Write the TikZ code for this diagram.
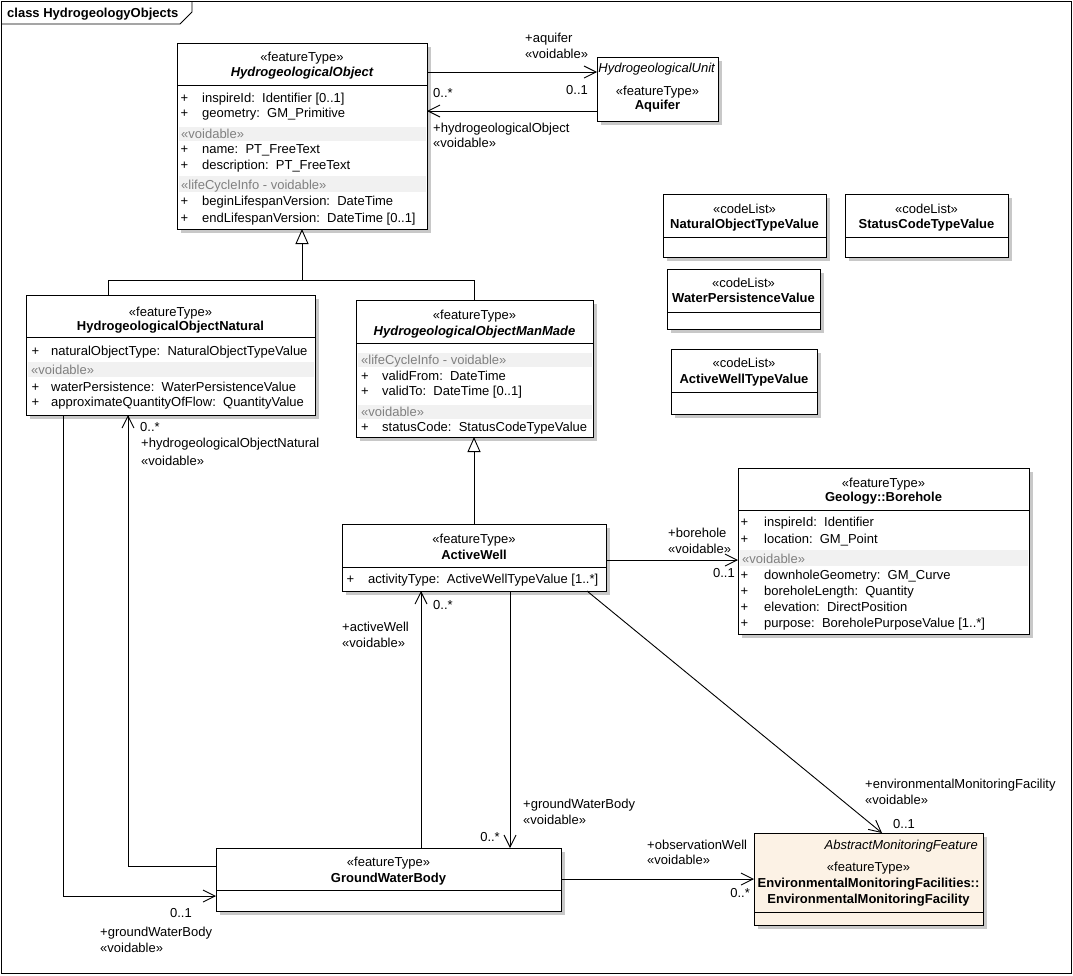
\documentclass[tikz,border=0pt]{standalone}
\usepackage{fontspec}
\setmainfont{Liberation Sans}
\usetikzlibrary{arrows.meta,shadows}
\definecolor{bandgray}{RGB}{241,241,241}
\definecolor{txtgray}{RGB}{128,128,128}
\definecolor{emffill}{RGB}{252,242,229}
\definecolor{shadowgray}{RGB}{200,200,200}
\newcommand\umlfont{\fontsize{13}{15}\selectfont\frenchspacing}
\tikzset{
 cls/.style={draw, line width=1pt, fill=white, inner sep=0pt, outer sep=0pt, anchor=north west,
   drop shadow={shadow xshift=4pt, shadow yshift=-4pt, fill=shadowgray, opacity=1}},
 t/.style={inner sep=0pt, anchor=base, font=\umlfont},
 tb/.style={inner sep=0pt, anchor=base, font=\umlfont\bfseries},
 tbi/.style={inner sep=0pt, anchor=base, font=\umlfont\bfseries\itshape},
 tl/.style={inner sep=0pt, anchor=base west, font=\umlfont},
 tr/.style={inner sep=0pt, anchor=base east, font=\umlfont},
 tg/.style={inner sep=0pt, anchor=base west, font=\umlfont, text=txtgray},
 band/.style={fill=bandgray, draw=none},
 divline/.style={line width=1pt},
 conn/.style={line width=0.9pt},
 assoc/.style={line width=0.9pt, -{Straight Barb[length=12pt,width=12pt,line width=0.9pt]}},
 gen/.style={line width=0.9pt, -{Triangle[open,length=15pt,width=13pt,line width=0.9pt]}},
}
\begin{document}
\begin{tikzpicture}[x=1pt,y=-1pt]
\useasboundingbox (0,0) rectangle (1073,975);
% frame
\draw[conn] (1,1) rectangle (1071,973);
\draw[conn] (1,24) -- (180,24) -- (192,12) -- (192,1);
\node[tl,font=\umlfont\bfseries] (title) at (7,17) {class HydrogeologyObjects};

% ---------- HydrogeologicalObject
\node[cls, minimum width=250pt, minimum height=186pt] (ho) at (177,43) {};
\draw[divline] (ho.west |- 0,85) -- (ho.east |- 0,85);
\fill[band] (178.5,127) rectangle (425.5,141);
\fill[band] (178.5,176) rectangle (425.5,192);
\node[t] (hoS) at (302,61) {«featureType»};
\node[tbi] (hoN) at (302,76) {HydrogeologicalObject};
\node[tl] (hoP1) at (180.5,102) {+}; \node[tl] (hoA1) at (202,102) {inspireId:\ \ Identifier [0..1]};
\node[tl] (hoP2) at (180.5,117) {+}; \node[tl] (hoA2) at (202,117) {geometry:\ \ GM\_Primitive};
\node[tg] (hoV1) at (181,138) {«voidable»};
\node[tl] (hoP3) at (180.5,153) {+}; \node[tl] (hoA3) at (202,153) {name:\ \ PT\_FreeText};
\node[tl] (hoP4) at (180.5,169) {+}; \node[tl] (hoA4) at (202,169) {description:\ \ PT\_FreeText};
\node[tg] (hoV2) at (181,189) {«lifeCycleInfo - voidable»};
\node[tl] (hoP5) at (180.5,205) {+}; \node[tl] (hoA5) at (202,205) {beginLifespanVersion:\ \ DateTime};
\node[tl] (hoP6) at (180.5,222) {+}; \node[tl] (hoA6) at (202,222) {endLifespanVersion:\ \ DateTime [0..1]};

% ---------- Aquifer
\node[cls, minimum width=121pt, minimum height=64pt] (aq) at (597,57) {};
\node[tr,font=\umlfont\itshape] (aqU) at (715,72) {HydrogeologicalUnit};
\node[t] (aqS) at (657.5,95) {«featureType»};
\node[tb] (aqN) at (657.5,109) {Aquifer};

% ---------- HydrogeologicalObjectNatural
\node[cls, minimum width=289pt, minimum height=120pt] (hon) at (26,295) {};
\draw[divline] (hon.west |- 0,337) -- (hon.east |- 0,337);
\fill[band] (27.5,362) rectangle (313.5,377);
\node[t] (honS) at (170.5,316) {«featureType»};
\node[tb] (honN) at (170.5,330) {HydrogeologicalObjectNatural};
\node[tl] (honP1) at (31.5,355) {+}; \node[tl] (honA1) at (51,355) {naturalObjectType:\ \ NaturalObjectTypeValue};
\node[tg] (honV) at (31,374) {«voidable»};
\node[tl] (honP2) at (31.5,391) {+}; \node[tl] (honA2) at (51,391) {waterPersistence:\ \ WaterPersistenceValue};
\node[tl] (honP3) at (31.5,406) {+}; \node[tl] (honA3) at (51,406) {approximateQuantityOfFlow:\ \ QuantityValue};

% ---------- HydrogeologicalObjectManMade
\node[cls, minimum width=237pt, minimum height=137pt] (homm) at (356,300) {};
\draw[divline] (homm.west |- 0,343) -- (homm.east |- 0,343);
\fill[band] (357.5,353) rectangle (591.5,367);
\fill[band] (357.5,405) rectangle (591.5,419);
\node[t] (hommS) at (474.5,319) {«featureType»};
\node[tbi] (hommN) at (474.5,335) {HydrogeologicalObjectManMade};
\node[tg] (hommV1) at (361,364) {«lifeCycleInfo - voidable»};
\node[tl] (hommP1) at (361,380) {+}; \node[tl] (hommA1) at (382,380) {validFrom:\ \ DateTime};
\node[tl] (hommP2) at (361,395) {+}; \node[tl] (hommA2) at (382,395) {validTo:\ \ DateTime [0..1]};
\node[tg] (hommV2) at (361,416) {«voidable»};
\node[tl] (hommP3) at (361,431) {+}; \node[tl] (hommA3) at (382,431) {statusCode:\ \ StatusCodeTypeValue};

% ---------- ActiveWell
\node[cls, minimum width=264pt, minimum height=67pt] (aw) at (342,524) {};
\draw[divline] (aw.west |- 0,567) -- (aw.east |- 0,567);
\node[t] (awS) at (474,543) {«featureType»};
\node[tb] (awN) at (474,559) {ActiveWell};
\node[tl] (awP1) at (346.5,583) {+}; \node[tl] (awA1) at (368,583) {activityType:\ \ ActiveWellTypeValue [1..*]};

% ---------- Geology::Borehole
\node[cls, minimum width=291pt, minimum height=166pt] (bh) at (738,468) {};
\draw[divline] (bh.west |- 0,510) -- (bh.east |- 0,510);
\fill[band] (739.5,550) rectangle (1027.5,566);
\node[t] (bhS) at (883.5,487) {«featureType»};
\node[tb] (bhN) at (883.5,501) {Geology::Borehole};
\node[tl] (bhP1) at (740.5,526) {+}; \node[tl] (bhA1) at (764,526) {inspireId:\ \ Identifier};
\node[tl] (bhP2) at (740.5,543) {+}; \node[tl] (bhA2) at (764,543) {location:\ \ GM\_Point};
\node[tg] (bhV) at (742,563) {«voidable»};
\node[tl] (bhP3) at (740.5,579) {+}; \node[tl] (bhA3) at (764,579) {downholeGeometry:\ \ GM\_Curve};
\node[tl] (bhP4) at (740.5,595) {+}; \node[tl] (bhA4) at (764,595) {boreholeLength:\ \ Quantity};
\node[tl] (bhP5) at (740.5,611) {+}; \node[tl] (bhA5) at (764,611) {elevation:\ \ DirectPosition};
\node[tl] (bhP6) at (740.5,627) {+}; \node[tl] (bhA6) at (764,627) {purpose:\ \ BoreholePurposeValue [1..*]};

% ---------- code lists
\node[cls, minimum width=163pt, minimum height=63pt] (notv) at (663,194) {};
\draw[divline] (notv.west |- 0,237) -- (notv.east |- 0,237);
\node[t] (notvS) at (744.5,213) {«codeList»};
\node[tb] (notvN) at (744.5,228) {NaturalObjectTypeValue};

\node[cls, minimum width=163pt, minimum height=63pt] (sctv) at (845,194) {};
\draw[divline] (sctv.west |- 0,237) -- (sctv.east |- 0,237);
\node[t] (sctvS) at (926.5,213) {«codeList»};
\node[tb] (sctvN) at (926.5,228) {StatusCodeTypeValue};

\node[cls, minimum width=153pt, minimum height=60pt] (wpv) at (667,269) {};
\draw[divline] (wpv.west |- 0,312) -- (wpv.east |- 0,312);
\node[t] (wpvS) at (743.5,287) {«codeList»};
\node[tb] (wpvN) at (743.5,302) {WaterPersistenceValue};

\node[cls, minimum width=146pt, minimum height=65pt] (awtv) at (671,349) {};
\draw[divline] (awtv.west |- 0,392) -- (awtv.east |- 0,392);
\node[t] (awtvS) at (744,367) {«codeList»};
\node[tb] (awtvN) at (744,383) {ActiveWellTypeValue};

% ---------- GroundWaterBody
\node[cls, minimum width=345pt, minimum height=63pt] (gwb) at (216,848) {};
\draw[divline] (gwb.west |- 0,890) -- (gwb.east |- 0,890);
\node[t] (gwbS) at (388.5,866) {«featureType»};
\node[tb] (gwbN) at (388.5,882) {GroundWaterBody};

% ---------- EnvironmentalMonitoringFacility
\node[cls, fill=emffill, minimum width=229pt, minimum height=92pt] (emf) at (754,833) {};
\draw[divline] (emf.west |- 0,912) -- (emf.east |- 0,912);
\node[tr,font=\umlfont\itshape] (emfA) at (978,849) {AbstractMonitoringFeature};
\node[t] (emfS) at (868.5,871) {«featureType»};
\node[tb] (emfN1) at (868.5,887) {EnvironmentalMonitoringFacilities::};
\node[tb] (emfN2) at (868.5,903) {EnvironmentalMonitoringFacility};

% ---------- generalizations
\draw[conn] (hon.north -| 108,0) -- (108,280) -- (474.5,280) -- (homm.north);
\draw[gen] (302,280) -- (ho.south);
\draw[gen] (aw.north) -- (aw.north |- homm.south);

% ---------- associations
\draw[assoc] (ho.east |- 0,72) -- (aq.west |- 0,72);
\node[tl] (l1) at (525,42) {+aquifer};
\node[tl] (l2) at (525,58) {«voidable»};
\node[tl] (l3) at (566,94) {0..1};
\draw[assoc] (aq.west |- 0,111) -- (ho.east |- 0,111);
\node[tl] (l4) at (433,97) {0..*};
\node[tl] (l5) at (433,132) {+hydrogeologicalObject};
\node[tl] (l6) at (433,147) {«voidable»};

\draw[assoc] (aw.east |- 0,560) -- (bh.west |- 0,560);
\node[tl] (l7) at (668,537) {+borehole};
\node[tl] (l8) at (668,553) {«voidable»};
\node[tr] (l9) at (735,577) {0..1};

\draw[assoc] (gwb.north -| 421,0) -- (aw.south -| 421,0);
\node[tl] (l10) at (433,609) {0..*};
\node[tl] (l11) at (342,631) {+activeWell};
\node[tl] (l12) at (342,647) {«voidable»};

\draw[assoc] (aw.south -| 510,0) -- (gwb.north -| 510,0);
\node[tl] (l13) at (523,808) {+groundWaterBody};
\node[tl] (l14) at (523,824) {«voidable»};
\node[tr] (l15) at (500,841) {0..*};

\draw[assoc] (gwb.west |- 0,866) -| (hon.south -| 128,0);
\node[tl] (l16) at (140,431) {0..*};
\node[tl] (l17) at (141,447) {+hydrogeologicalObjectNatural};
\node[tl] (l18) at (141,465) {«voidable»};

\draw[assoc] (hon.south -| 63,0) |- (gwb.west |- 0,896);
\node[tr] (l19) at (192,917) {0..1};
\node[tl] (l20) at (100,936) {+groundWaterBody};
\node[tl] (l21) at (100,952) {«voidable»};

\draw[assoc] (gwb.east |- 0,879) -- (emf.west |- 0,879);
\node[tl] (l22) at (647,849) {+observationWell};
\node[tl] (l23) at (647,864) {«voidable»};
\node[tr] (l24) at (750,897) {0..*};

\draw[assoc] (aw.south -| 587,0) -- (emf.north -| 882,0);
\node[tl] (l25) at (865,788) {+environmentalMonitoringFacility};
\node[tl] (l26) at (865,804) {«voidable»};
\node[tl] (l27) at (893,828) {0..1};
\end{tikzpicture}
\end{document}
